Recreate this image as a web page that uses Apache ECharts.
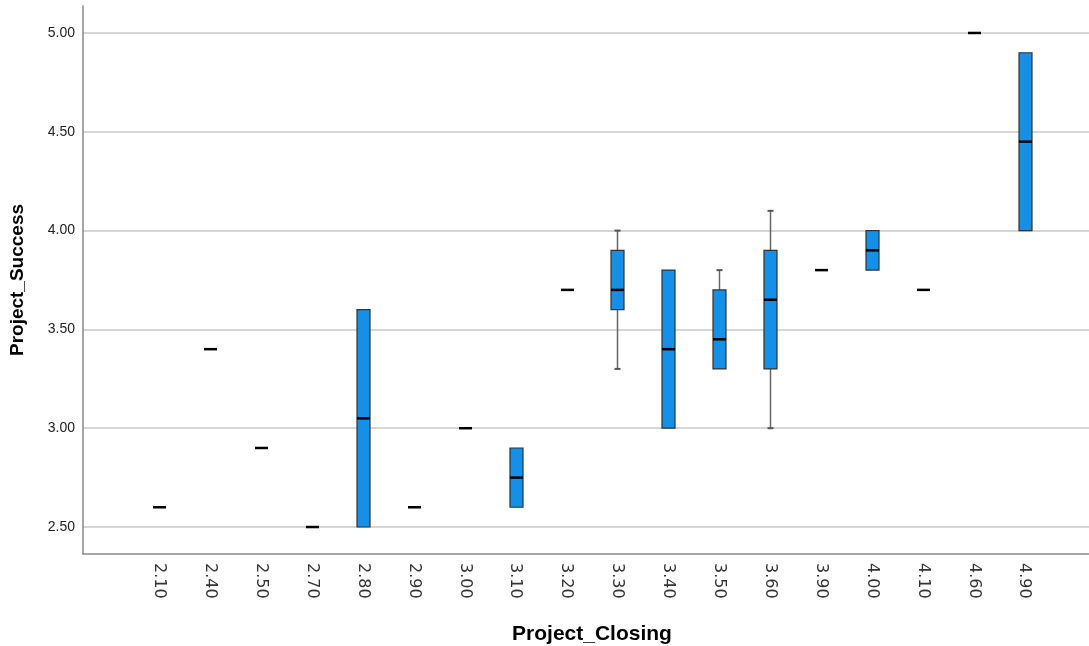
<!DOCTYPE html>
<html>
<head>
<meta charset="utf-8">
<script src="https://cdn.jsdelivr.net/npm/echarts@6/dist/echarts.min.js"></script>
<style>
html,body{margin:0;padding:0;background:#fff;}
#chart{width:1089px;height:646px;}
</style>
</head>
<body>
<div id="chart"></div>
<script>
// Categories of Project_Closing
const categories = ['2.10','2.40','2.50','2.70','2.80','2.90','3.00','3.10','3.20','3.30','3.40','3.50','3.60','3.90','4.00','4.10','4.60','4.90'];
// Box statistics of Project_Success per category
const whiskerLow = [2.60,3.40,2.90,2.50,2.50,2.60,3.00,2.60,3.70,3.30,3.00,3.30,3.00,3.80,3.80,3.70,5.00,4.00];
const quartile1  = [2.60,3.40,2.90,2.50,2.50,2.60,3.00,2.60,3.70,3.60,3.00,3.30,3.30,3.80,3.80,3.70,5.00,4.00];
const medians    = [2.60,3.40,2.90,2.50,3.05,2.60,3.00,2.75,3.70,3.70,3.40,3.45,3.65,3.80,3.90,3.70,5.00,4.45];
const quartile3  = [2.60,3.40,2.90,2.50,3.60,2.60,3.00,2.90,3.70,3.90,3.80,3.70,3.90,3.80,4.00,3.70,5.00,4.90];
const whiskerHigh= [2.60,3.40,2.90,2.50,3.60,2.60,3.00,2.90,3.70,4.00,3.80,3.80,4.10,3.80,4.00,3.70,5.00,4.90];
const yTicks = [2.5,3.0,3.5,4.0,4.5,5.0];

const axisCats = [' '].concat(categories).concat(['  ']);
const data = categories.map((c,i)=>[c, whiskerLow[i], quartile1[i], medians[i], quartile3[i], whiskerHigh[i]]);

const chart = echarts.init(document.getElementById('chart'));
chart.setOption({
  animation:false,
  backgroundColor:'#fff',
  grid:{left:83, right:-12, top:6, bottom:92, outerBoundsMode:'none', containLabel:false},
  xAxis:{
    type:'category',
    data:axisCats,
    boundaryGap:true,
    name:'Project_Closing',
    nameLocation:'middle',
    nameGap:70,
    nameTextStyle:{fontFamily:'Liberation Sans', fontWeight:'bold', fontSize:21, color:'#000'},
    axisLine:{lineStyle:{color:'#888', width:1.5}},
    axisTick:{show:false},
    axisLabel:{rotate:-90, interval:0, margin:9, fontFamily:'DejaVu Sans', fontSize:16, color:'#333', padding:[0,0,10,0]},
    splitLine:{show:false}
  },
  yAxis:{
    type:'value',
    min:2.3635,
    max:5.1365,
    name:'Project_Success',
    nameLocation:'middle',
    nameGap:56,
    nameTextStyle:{fontFamily:'Liberation Sans', fontWeight:'bold', fontSize:19, color:'#000'},
    axisLine:{show:true, lineStyle:{color:'#888', width:1.5}},
    axisTick:{show:false, customValues:yTicks},
    axisLabel:{customValues:yTicks, margin:8, fontFamily:'Liberation Sans', fontSize:14, color:'#222', formatter:v=>v.toFixed(2)},
    splitLine:{show:true, lineStyle:{color:'#c8c8c8', width:1.5}}
  },
  series:[{
    type:'custom',
    data:data,
    encode:{x:0, y:[1,2,3,4,5]},
    renderItem:function(params, api){
      const xi = api.value(0);
      const lo = api.coord([xi, api.value(1)]);
      const q1 = api.coord([xi, api.value(2)]);
      const md = api.coord([xi, api.value(3)]);
      const q3 = api.coord([xi, api.value(4)]);
      const hi = api.coord([xi, api.value(5)]);
      const cx = Math.round(q1[0]) + 0.5;
      const bw = 13;
      const cap = 6;
      const children = [];
      const wStyle = {stroke:'#666', lineWidth:1.5};
      if (api.value(5) > api.value(4)) {
        children.push({type:'line', shape:{x1:cx, y1:q3[1], x2:cx, y2:hi[1]}, style:wStyle});
        children.push({type:'line', shape:{x1:cx-cap/2, y1:hi[1], x2:cx+cap/2, y2:hi[1]}, style:{stroke:'#555', lineWidth:2}});
      }
      if (api.value(1) < api.value(2)) {
        children.push({type:'line', shape:{x1:cx, y1:q1[1], x2:cx, y2:lo[1]}, style:wStyle});
        children.push({type:'line', shape:{x1:cx-cap/2, y1:lo[1], x2:cx+cap/2, y2:lo[1]}, style:{stroke:'#555', lineWidth:2}});
      }
      children.push({type:'rect', shape:{x:cx-bw/2, y:q3[1], width:bw, height:q1[1]-q3[1]}, style:{fill:'#1590e8', stroke:'#333', lineWidth:1.2}});
      children.push({type:'line', shape:{x1:cx-bw/2, y1:md[1], x2:cx+bw/2, y2:md[1]}, style:{stroke:'#000', lineWidth:2.5}});
      return {type:'group', children:children};
    }
  }]
});
</script>
</body>
</html>
